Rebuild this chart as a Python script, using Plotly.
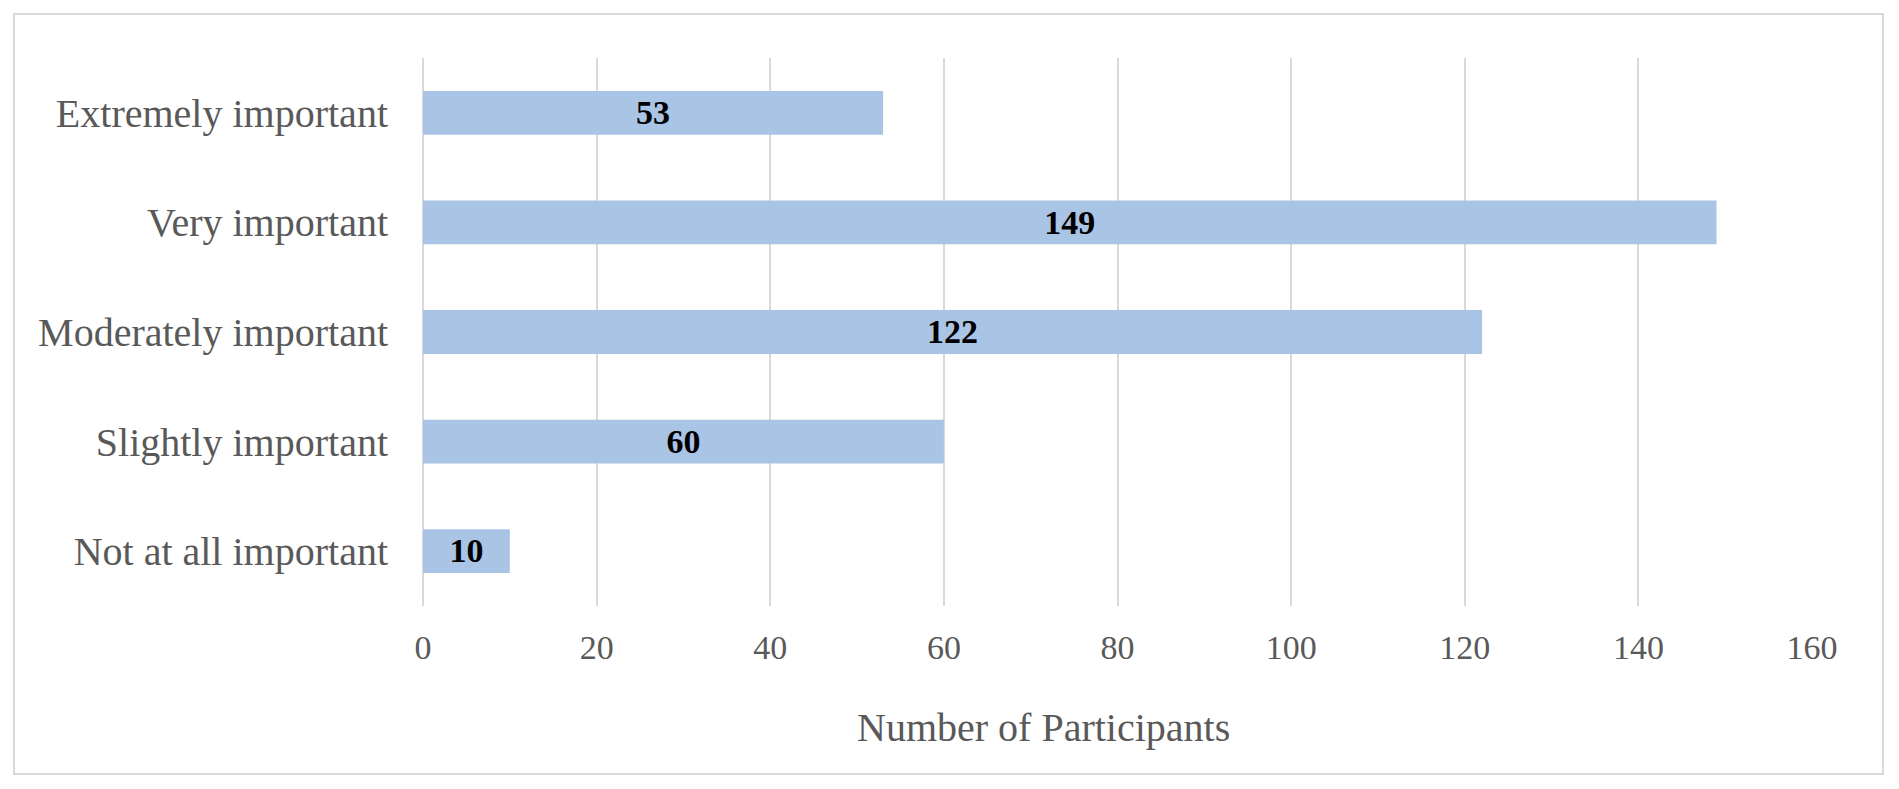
import plotly.graph_objects as go

# Data (top to bottom as shown)
categories = ["Extremely important", "Very important", "Moderately important",
              "Slightly important", "Not at all important"]
participants = [53, 149, 122, 60, 10]
x_ticks = [0, 20, 40, 60, 80, 100, 120, 140, 160]
x_title = "Number of Participants"

OFF = 8                      # default page body margin
W, H = 1899 - 2 * OFF, 789 - 2 * OFF
# plot area in page pixels
PL, PR, PT, PB = 423, 1812, 58, 606
pw, ph = PR - PL, PB - PT

def px_x(p):
    return (p - PL) / pw

def px_y(p):
    return (PB - p) / ph

FONT = "Liberation Serif, Times New Roman, serif"
GREY = "#595959"

fig = go.Figure(go.Bar(
    y=categories,
    x=participants,
    orientation="h",
    width=0.4,
    marker=dict(color="#AAC4E5", line=dict(width=0)),
    text=[str(v) for v in participants],
    textposition="inside",
    insidetextanchor="middle",
    textangle=0,
    textfont=dict(family=FONT, size=35, color="black", weight="bold"),
    cliponaxis=False,
    hoverinfo="skip",
))

fig.update_layout(
    width=W, height=H,
    margin=dict(l=PL - OFF, r=(OFF + W) - PR, t=PT - OFF, b=(OFF + H) - PB,
                autoexpand=False),
    paper_bgcolor="white",
    plot_bgcolor="white",
    showlegend=False,
    font=dict(family=FONT, color=GREY),
    xaxis=dict(
        range=[0, 160],
        tickvals=x_ticks,
        ticktext=[str(t) for t in x_ticks],
        showgrid=True,
        gridcolor="#D9D9D9",
        gridwidth=2,
        zeroline=True,
        zerolinecolor="#D9D9D9",
        zerolinewidth=2,
        showline=False,
        ticks="",
        ticklabelstandoff=18,
        tickfont=dict(family=FONT, size=34, color=GREY),
        fixedrange=True,
    ),
    yaxis=dict(
        autorange="reversed",
        showgrid=False,
        zeroline=False,
        showline=False,
        ticks="",
        ticklabelstandoff=34,
        tickfont=dict(family=FONT, size=40, color=GREY),
        fixedrange=True,
    ),
    shapes=[dict(
        type="rect", xref="paper", yref="paper",
        x0=px_x(14), x1=px_x(1883), y0=px_y(774), y1=px_y(14),
        line=dict(color="#D9D9D9", width=2),
        fillcolor="rgba(0,0,0,0)",
        layer="below",
    )],
    annotations=[dict(
        text=x_title, xref="paper", yref="paper",
        x=px_x(1043), y=px_y(727),
        xanchor="center", yanchor="middle",
        showarrow=False,
        font=dict(family=FONT, size=40, color=GREY),
    )],
)

fig.write_html("out.html")
